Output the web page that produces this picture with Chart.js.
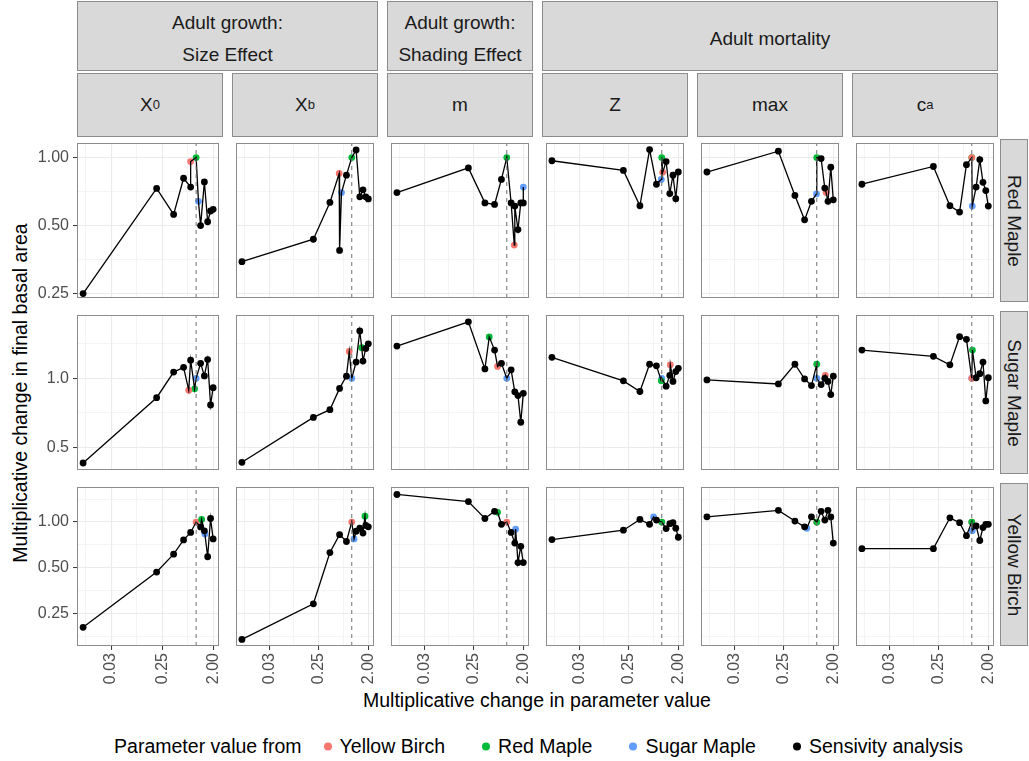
<!DOCTYPE html>
<html>
<head>
<meta charset="utf-8">
<script src="https://cdn.jsdelivr.net/npm/chart.js@4.4.1/dist/chart.umd.min.js"></script>
<style>
  body { margin: 0; background: #fff; font-family: "Liberation Sans", Arial, sans-serif; }
  #stage { position: relative; width: 1029px; height: 761px; overflow: hidden; background: #fff; }
  .strip { position: absolute; box-sizing: border-box; background: #d9d9d9; border: 1px solid #8c8c8c;
           color: #1a1a1a; font-size: 19px; display: flex; align-items: center; justify-content: center;
           text-align: center; }
  .strip.top { line-height: 32px; padding-top: 5px; }
  .strip sub { font-size: 13px; vertical-align: -6px; line-height: 0; }
  .strip.side span { display: inline-block; transform: rotate(90deg); white-space: nowrap; }
  .panel { position: absolute; }
  #ytitle { position: absolute; left: 20px; top: 393px; transform: translate(-50%, -50%) rotate(-90deg);
            white-space: nowrap; font-size: 19.5px; color: #000; }
  #xtitle { position: absolute; left: 537px; top: 700px; transform: translate(-50%, -50%);
            white-space: nowrap; font-size: 19.5px; color: #000; }
  #legend { position: absolute; left: 0; width: 1077px; top: 746px; transform: translateY(-50%);
            display: flex; justify-content: center; align-items: center; font-size: 19.5px; color: #000; white-space: nowrap; }
  #legend .item { display: flex; align-items: center; margin-left: 37px; }
  #legend .item.first { margin-left: 22px; }
  #legend i { display: inline-block; width: 8px; height: 8px; border-radius: 50%; margin-right: 8px; }
</style>
</head>
<body>
<div id="stage">
  <div id="ytitle">Multiplicative change in final basal area</div>
  <div id="xtitle">Multiplicative change in parameter value</div>
  <div id="legend">
    <span>Parameter value from</span>
    <span class="item first"><i style="background:#F8766D"></i>Yellow Birch</span>
    <span class="item"><i style="background:#00BA38"></i>Red Maple</span>
    <span class="item"><i style="background:#619CFF"></i>Sugar Maple</span>
    <span class="item"><i style="background:#000"></i>Sensivity analysis</span>
  </div>
</div>
<script>
// facets
const speciesRows = ['Red Maple', 'Sugar Maple', 'Yellow Birch'];
const paramLabels = ['X<sub>0</sub>', 'X<sub>b</sub>', 'm', 'Z', 'max', 'c<sub>a</sub>'];
const groupLabels = ['Adult growth:<br>Size Effect', 'Adult growth:<br>Shading Effect', 'Adult mortality'];
const groupSpans = [[0, 1], [2, 2], [3, 5]];

// sensitivity analysis multipliers
const sensX = [0.01, 0.2, 0.4, 0.6, 0.8, 1.2, 1.4, 1.6, 1.8, 2.0];

// sensitivity results, one array per parameter (X0, Xb, m, Z, max, ca)
const redMapleSens = [
  [0.25, 0.73, 0.56, 0.81, 0.74, 0.50, 0.78, 0.52, 0.58, 0.59],
  [0.346, 0.435, 0.633, 0.388, 0.836, 1.08, 0.67, 0.72, 0.67, 0.656],
  [0.70, 0.90, 0.63, 0.62, 0.80, 0.63, 0.61, 0.48, 0.63, 0.63],
  [0.968, 0.877, 0.612, 1.085, 0.762, 0.96, 0.693, 0.835, 0.658, 0.863],
  [0.863, 1.067, 0.68, 0.53, 0.64, 0.99, 0.733, 0.64, 0.906, 0.65],
  [0.762, 0.913, 0.612, 0.574, 0.93, 0.74, 0.98, 0.777, 0.714, 0.61]
];
const sugarMapleSens = [
  [0.427, 0.823, 1.065, 1.117, 1.2, 1.163, 1.025, 1.208, 0.765, 0.91],
  [0.43, 0.675, 0.73, 0.904, 1.022, 1.178, 1.61, 1.19, 1.35, 1.414],
  [1.383, 1.764, 1.099, 1.328, 1.163, 1.089, 0.873, 0.841, 0.643, 0.86],
  [1.235, 0.975, 0.876, 1.152, 1.134, 0.924, 1.03, 0.969, 1.07, 1.106],
  [0.984, 0.945, 1.152, 0.994, 0.93, 0.939, 1.0, 0.969, 0.849, 1.022],
  [1.328, 1.247, 1.145, 1.52, 1.48, 1.006, 1.048, 1.178, 0.797, 1.006]
];
const yellowBirchSens = [
  [0.203, 0.469, 0.615, 0.763, 0.854, 0.929, 0.876, 0.591, 1.055, 0.774],
  [0.169, 0.290, 0.630, 0.826, 0.745, 0.87, 0.91, 0.846, 0.95, 0.93],
  [1.518, 1.363, 1.055, 1.176, 0.966, 0.855, 0.727, 0.541, 0.692, 0.541],
  [0.767, 0.884, 1.04, 0.966, 1.03, 0.906, 0.976, 0.99, 0.911, 0.794],
  [1.082, 1.194, 1.015, 0.93, 1.082, 1.176, 1.03, 1.194, 1.08, 0.727],
  [0.668, 0.668, 1.066, 0.99, 0.813, 0.943, 0.756, 0.92, 0.966, 0.966]
];

// points using another species' parameter value; rows = Red Maple, Sugar Maple, Yellow Birch
const fromYellowBirchX = [[0.8, 0.59, 1.37, 1.04, 1.48, 1], [0.74, 0.9, 0.68, 1.43, 1.43, 1], [1, 1, 1, 1, 1, 1]];
const fromYellowBirchY = [[0.96, 0.85, 0.41, 0.86, 0.70, 1], [0.887, 1.31, 1.127, 1.145, 1.03, 1], [1, 1, 1, 1, 1, 1]];
const fromRedMapleX = [[1, 1, 1, 1, 1, 1], [0.94, 1.52, 0.48, 0.98, 1.0, 1.03], [1.25, 1.74, 0.68, 1, 1, 1]];
const fromRedMapleY = [[1, 1, 1, 1, 1, 1], [0.90, 1.36, 1.516, 0.975, 1.152, 1.328], [1.04, 1.093, 1.159, 1, 1, 1]];
const fromSugarMapleX = [[1.1, 0.65, 2.0, 0.98, 0.99, 1.02], [1, 1, 1, 1, 1, 1], [1.43, 1.1, 1.45, 0.71, 0.66, 1.02]];
const fromSugarMapleY = [[0.64, 0.70, 0.74, 0.80, 0.69, 0.61], [1, 1, 1, 1, 1, 1], [0.834, 0.774, 0.898, 1.08, 0.91, 0.876]];

// axes (log scales)
const xMin = 0.0078, xMax = 2.54;
const xTickVals = [0.01105, 0.03125, 0.0884, 0.25, 0.7071, 2];
const xTickLabels = ['', '0.03', '', '0.25', '', '2.00'];
const yMin = [0.239, 0.398, 0.153];
const yMax = [1.16, 1.89, 1.70];
const yTickVals = [
  [0.25, 0.3536, 0.5, 0.7071, 1],
  [0.5, 0.7071, 1, 1.4142],
  [0.1768, 0.25, 0.3536, 0.5, 0.7071, 1, 1.4142]
];
const yTickLabels = [
  ['0.25', '', '0.50', '', '1.00'],
  ['0.5', '', '1.0', ''],
  ['', '0.25', '', '0.50', '', '1.00', '']
];

const speciesColors = ['#F8766D', '#00BA38', '#619CFF'];
const ownSpecies = [1, 2, 0];

// layout
const panelLeft = [77, 232, 387, 542, 697, 852];
const panelTop = [139, 311, 483];
const panelW = 146, panelH = 163;
const yAxisW = 60, xAxisH = 60;
const tickFont = { family: '"Liberation Sans", Arial, sans-serif', size: 16 };

const stage = document.getElementById('stage');

function addStrip(cls, left, top, w, h, html) {
  const d = document.createElement('div');
  d.className = 'strip ' + cls;
  d.style.cssText = `left:${left}px;top:${top}px;width:${w}px;height:${h}px`;
  d.innerHTML = html;
  stage.appendChild(d);
}

groupSpans.forEach(([a, b], i) => {
  addStrip('top', panelLeft[a], 1, panelLeft[b] + panelW - panelLeft[a], 70, groupLabels[i]);
});
paramLabels.forEach((lab, c) => addStrip('', panelLeft[c], 73, panelW, 64, lab));
speciesRows.forEach((sp, r) => addStrip('side', 1000, panelTop[r], 28, panelH, '<span>' + sp + '</span>'));

const panelBox = {
  id: 'panelBox',
  afterDraw(chart) {
    const { ctx, chartArea: a } = chart;
    ctx.save();
    ctx.strokeStyle = '#8c8c8c';
    ctx.lineWidth = 1;
    ctx.strokeRect(a.left + 0.5, a.top + 0.5, a.width - 1, a.height - 1);
    ctx.restore();
  }
};

function gridOpts(labels, show) {
  return {
    color: '#ebebeb',
    lineWidth: ctx => (labels[ctx.index] ? 1.1 : 0.55),
    drawTicks: show,
    tickLength: 4,
    tickWidth: 1,
    tickColor: ctx => (labels[ctx.index] ? '#333333' : 'rgba(0,0,0,0)')
  };
}

const sensByRow = [redMapleSens, sugarMapleSens, yellowBirchSens];
const fromX = [fromYellowBirchX, fromRedMapleX, fromSugarMapleX];
const fromY = [fromYellowBirchY, fromRedMapleY, fromSugarMapleY];

speciesRows.forEach((sp, r) => {
  paramLabels.forEach((p, c) => {
    const showY = c === 0, showX = r === 2;
    const left = panelLeft[c] - (showY ? yAxisW : 0);
    const w = panelW + (showY ? yAxisW : 0);
    const h = panelH + (showX ? xAxisH : 0);

    const wrap = document.createElement('div');
    wrap.className = 'panel';
    wrap.style.cssText = `left:${left}px;top:${panelTop[r]}px;width:${w}px;height:${h}px`;
    const canvas = document.createElement('canvas');
    canvas.width = w;
    canvas.height = h;
    wrap.appendChild(canvas);
    stage.appendChild(wrap);

    const sensPts = sensX.map((x, i) => ({ x: x, y: sensByRow[r][c][i] }));
    const order = [0, 1, 2].filter(s => s !== ownSpecies[r]).concat([ownSpecies[r]]);
    const colored = order.map(s => ({ s: s, pt: { x: fromX[s][r][c], y: fromY[s][r][c] } }));
    const pathPts = sensPts.concat(colored.map(o => o.pt)).sort((a, b) => a.x - b.x);

    const datasets = [
      {
        data: [{ x: 1, y: yMin[r] }, { x: 1, y: yMax[r] }],
        showLine: true, borderColor: '#6e6e6e', borderWidth: 1, borderDash: [4, 4],
        pointRadius: 0
      },
      {
        data: pathPts, showLine: true, borderColor: '#000', borderWidth: 1.3,
        pointRadius: 0, tension: 0
      },
      {
        data: sensPts, showLine: false, pointRadius: 3.4, pointBorderWidth: 0,
        pointBackgroundColor: '#000', backgroundColor: '#000'
      }
    ];
    colored.forEach(o => datasets.push({
      data: [o.pt], showLine: false, pointRadius: 3.4, pointBorderWidth: 0,
      pointBackgroundColor: speciesColors[o.s], backgroundColor: speciesColors[o.s]
    }));

    new Chart(canvas, {
      type: 'scatter',
      data: { datasets: datasets },
      plugins: [panelBox],
      options: {
        responsive: false,
        animation: false,
        events: [],
        layout: { padding: 0 },
        plugins: { legend: { display: false }, tooltip: { enabled: false } },
        scales: {
          x: {
            type: 'logarithmic', min: xMin, max: xMax,
            afterBuildTicks: s => { s.ticks = xTickVals.map(v => ({ value: v })); },
            afterFit: s => { s.height = showX ? xAxisH : 0; s.paddingLeft = 0; s.paddingRight = 0; },
            grid: gridOpts(xTickLabels, showX),
            border: { display: false },
            ticks: {
              display: showX, autoSkip: false, minRotation: 90, maxRotation: 90, padding: 3,
              color: '#4d4d4d', font: tickFont,
              callback: (v, i) => xTickLabels[i]
            }
          },
          y: {
            type: 'logarithmic', min: yMin[r], max: yMax[r],
            afterBuildTicks: s => { s.ticks = yTickVals[r].map(v => ({ value: v })); },
            afterFit: s => { s.width = showY ? yAxisW : 0; s.paddingTop = 0; s.paddingBottom = 0; },
            grid: gridOpts(yTickLabels[r], showY),
            border: { display: false },
            ticks: {
              display: showY, autoSkip: false, padding: 4,
              color: '#4d4d4d', font: tickFont,
              callback: (v, i) => yTickLabels[r][i]
            }
          }
        }
      }
    });
  });
});
</script>
</body>
</html>
